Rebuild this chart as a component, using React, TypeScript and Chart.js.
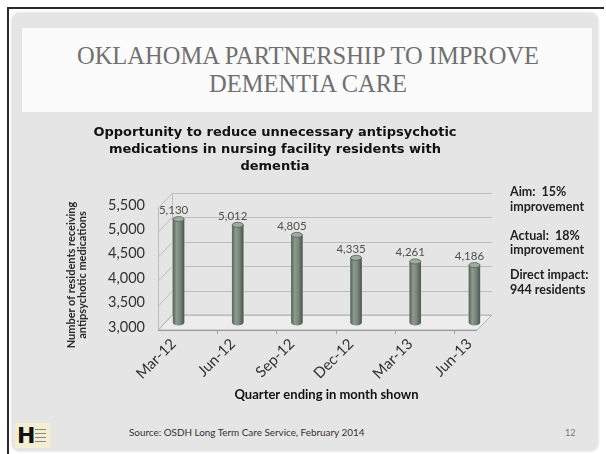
import React, { useEffect, useRef } from 'react';
import { Chart, registerables } from 'chart.js';

Chart.register(...registerables);

const categories = ['Mar-12', 'Jun-12', 'Sep-12', 'Dec-12', 'Mar-13', 'Jun-13'];
const residents = [5130, 5012, 4805, 4335, 4261, 4186];
const yTicks = [3000, 3500, 4000, 4500, 5000, 5500];
const chartTitle = [
  'Opportunity to reduce unnecessary antipsychotic',
  'medications in nursing facility residents with',
  'dementia',
];
const xTitle = 'Quarter ending in month shown';
const yTitle = ['Number of residents receiving', 'antipsychotic medications'];
const headerLines = ['OKLAHOMA PARTNERSHIP TO IMPROVE', 'DEMENTIA CARE'];
const notes = [
  ['Aim:  15%', 'improvement'],
  ['Actual:  18%', 'improvement'],
  ['Direct impact:', '944 residents'],
];
const sourceText = 'Source: OSDH Long Term Care Service, February 2014';
const pageNumber = '12';

const SANS = 'Lato, "Open Sans", sans-serif';
const WIDE = '"DejaVu Sans", Lato, sans-serif';
const fmt = (v: number) => v.toLocaleString('en-US');

const frame3d = {
  id: 'frame3d',
  beforeDatasetsDraw(chart: any) {
    const { ctx, chartArea: a, scales } = chart;
    const ys = scales.y;
    const xs = scales.x;
    const fl = a.left + 9;
    const bl = a.left + 23;
    const br = a.right - 12;
    const fr = a.right - 27;
    const fo = 7;
    const bo = -8;
    const b = ys.getPixelForValue(yTicks[0]);
    const t = ys.getPixelForValue(yTicks[yTicks.length - 1]);
    ctx.save();
    ctx.beginPath();
    ctx.moveTo(fl, b + fo);
    ctx.lineTo(fr, b + fo);
    ctx.lineTo(br, b + bo);
    ctx.lineTo(bl, b + bo);
    ctx.closePath();
    ctx.fillStyle = '#ededed';
    ctx.fill();
    ctx.lineWidth = 1;
    ctx.strokeStyle = '#b4b4b4';
    ctx.stroke();
    ctx.beginPath();
    ctx.moveTo(fl, b + fo + 0.5);
    ctx.lineTo(fr, b + fo + 0.5);
    ctx.strokeStyle = '#9a9a9a';
    ctx.stroke();
    ctx.strokeStyle = '#bdbdbd';
    yTicks.forEach((v) => {
      const py = Math.round(ys.getPixelForValue(v)) + 0.5;
      ctx.beginPath();
      ctx.moveTo(bl, py + bo);
      ctx.lineTo(br, py + bo);
      ctx.moveTo(fl, py + fo);
      ctx.lineTo(bl, py + bo);
      ctx.stroke();
    });
    ctx.beginPath();
    ctx.moveTo(fl + 0.5, t + fo);
    ctx.lineTo(fl + 0.5, b + fo);
    ctx.moveTo(bl + 0.5, t + bo);
    ctx.lineTo(bl + 0.5, b + bo);
    ctx.stroke();
    ctx.strokeStyle = '#a0a0a0';
    for (let i = 1; i < categories.length; i++) {
      const px = (xs.getPixelForValue(i - 1) + xs.getPixelForValue(i)) / 2 + 9;
      ctx.beginPath();
      ctx.moveTo(Math.round(px) + 0.5, b + fo);
      ctx.lineTo(Math.round(px) + 0.5, b + fo + 4);
      ctx.stroke();
    }
    ctx.restore();
  },
  afterDatasetsDraw(chart: any) {
    const { ctx } = chart;
    const meta = chart.getDatasetMeta(0);
    const data = chart.data.datasets[0].data as number[];
    ctx.save();
    meta.data.forEach((el: any, i: number) => {
      const { x, y: top, base, width } = el.getProps(['x', 'y', 'base', 'width'], true);
      const w = width;
      const l = x - w / 2;
      const g = ctx.createLinearGradient(l, 0, l + w, 0);
      g.addColorStop(0, '#56625a');
      g.addColorStop(0.3, '#8d9b90');
      g.addColorStop(0.65, '#76847a');
      g.addColorStop(1, '#4c574f');
      ctx.fillStyle = g;
      ctx.fillRect(l, top, w, base - top);
      ctx.beginPath();
      ctx.ellipse(x, base, w / 2, 2.5, 0, 0, Math.PI);
      ctx.fill();
      ctx.beginPath();
      ctx.ellipse(x, top, w / 2, 2.5, 0, 0, Math.PI * 2);
      ctx.fillStyle = '#9eaba1';
      ctx.fill();
      ctx.lineWidth = 0.8;
      ctx.strokeStyle = '#56625a';
      ctx.stroke();
      ctx.fillStyle = '#505050';
      ctx.font = '11.5px ' + SANS;
      ctx.textAlign = 'center';
      ctx.textBaseline = 'middle';
      ctx.fillText(fmt(data[i]), x - 5, top - 9);
    });
    ctx.restore();
  },
};

function BarChart() {
  const ref = useRef<HTMLCanvasElement | null>(null);
  useEffect(() => {
    if (!ref.current) return;
    const chart = new Chart(ref.current, {
      type: 'bar',
      data: {
        labels: categories,
        datasets: [
          {
            data: residents,
            base: yTicks[0],
            backgroundColor: '#78877b',
            borderWidth: 0,
            barThickness: 11,
          },
        ],
      },
      options: {
        responsive: false,
        animation: false,
        layout: { padding: { left: 6, right: 6, top: 0, bottom: 5 } },
        plugins: {
          legend: { display: false },
          tooltip: { enabled: false },
          title: {
            display: true,
            text: chartTitle,
            color: '#111',
            font: { family: WIDE, size: 13, weight: 'bold', lineHeight: 17 / 13 },
            padding: { top: 6, bottom: 26 },
          },
        },
        scales: {
          x: {
            grid: { display: false, drawTicks: false },
            border: { display: false },
            ticks: {
              color: '#333',
              font: { family: SANS, size: 15 },
              maxRotation: 45,
              minRotation: 45,
              padding: 12,
              labelOffset: -5,
            },
            title: {
              display: true,
              text: xTitle,
              color: '#111',
              font: { family: SANS, size: 13, weight: 'bold', lineHeight: 1.2 },
              padding: { top: 0, bottom: 10 },
            },
            afterFit: (s: any) => {
              s.height = 90;
            },
          },
          y: {
            min: yTicks[0],
            max: yTicks[yTicks.length - 1],
            grid: { display: false, drawTicks: false },
            border: { display: false },
            ticks: {
              stepSize: 500,
              color: '#333',
              font: { family: SANS, size: 14.5 },
              padding: 4,
              labelOffset: 4,
              callback: (v: any) => fmt(Number(v)),
            },
            afterFit: (s: any) => {
              s.width = 103;
            },
          },
        },
      },
      plugins: [frame3d],
    });
    return () => chart.destroy();
  }, []);
  return <canvas ref={ref} width={470} height={300} style={{ display: 'block' }} />;
}

export default function App() {
  const abs = (o: React.CSSProperties): React.CSSProperties => ({ position: 'absolute', ...o });
  return (
    <div style={abs({ left: 0, top: 0, width: 606, height: 454, background: '#fff', overflow: 'hidden' })}>
      <div style={abs({ left: 7, top: 7, width: 597, height: 2, background: '#2a2a2a' })} />
      <div style={abs({ left: 7, top: 7, width: 2, height: 447, background: '#2a2a2a' })} />
      <div
        style={abs({
          left: 12,
          top: 13,
          width: 586,
          height: 438,
          background: '#e5e5e5',
          borderRadius: 8,
          boxShadow: '0 0 3px #cfcfcf',
        })}
      />
      <div style={abs({ left: 22, top: 28, width: 570, height: 84, background: '#fbfbfb' })} />
      <div
        style={abs({
          left: 22,
          top: 42,
          width: 572,
          textAlign: 'center',
          fontFamily: '"Liberation Serif", "DejaVu Serif", serif',
          fontSize: 24.5,
          lineHeight: '28px',
          color: '#707070',
        })}
      >
        {headerLines.map((l) => (
          <div key={l}>{l}</div>
        ))}
      </div>
      <div style={abs({ left: 40, top: 118, width: 470, height: 300 })}>
        <BarChart />
      </div>
      <div
        style={abs({
          left: -8,
          top: 264,
          width: 170,
          height: 22,
          transform: 'rotate(-90deg)',
          transformOrigin: '50% 50%',
          textAlign: 'center',
          fontFamily: SANS,
          fontWeight: 'bold',
          fontSize: 11,
          lineHeight: '10.5px',
          color: '#2a2a2a',
          whiteSpace: 'nowrap',
        })}
      >
        {yTitle.map((l) => (
          <div key={l}>{l}</div>
        ))}
      </div>
      {notes.map((n, i) => (
        <div
          key={i}
          style={abs({
            left: 510,
            top: [185, 228.5, 268][i],
            fontFamily: SANS,
            fontWeight: 'bold',
            fontSize: 12.5,
            lineHeight: '14.5px',
            color: '#222',
            whiteSpace: 'pre',
          })}
        >
          {n.map((l) => (
            <div key={l}>{l}</div>
          ))}
        </div>
      ))}
      <div
        style={abs({
          left: 129,
          top: 426,
          fontFamily: SANS,
          fontSize: 9.9,
          lineHeight: '12px',
          color: '#333',
          whiteSpace: 'nowrap',
        })}
      >
        {sourceText}
      </div>
      <div style={abs({ left: 565, top: 427, fontFamily: SANS, fontSize: 9, lineHeight: '12px', color: '#777' })}>
        {pageNumber}
      </div>
      <div style={abs({ left: 15, top: 423, width: 35, height: 25, background: '#f4efd2' })}>
        <div
          style={abs({
            left: 2,
            top: 1,
            fontFamily: '"DejaVu Sans", sans-serif',
            fontWeight: 'bold',
            fontSize: 22,
            lineHeight: '24px',
            color: '#111',
          })}
        >
          H
        </div>
        {[6, 10, 14, 18].map((t) => (
          <div key={t} style={abs({ left: 20, top: t, width: 11, height: 1, background: '#8a8a7a' })} />
        ))}
      </div>
    </div>
  );
}
